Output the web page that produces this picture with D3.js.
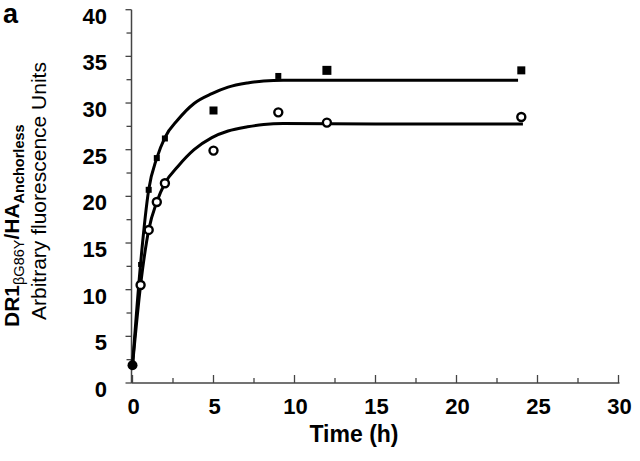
<!DOCTYPE html>
<html>
<head>
<meta charset="utf-8">
<script src="https://cdn.jsdelivr.net/npm/d3@7/dist/d3.min.js"></script>
<style>
  html, body { margin: 0; padding: 0; background: #fff; }
  svg { display: block; }
  text { font-family: "Liberation Sans", Arial, Helvetica, sans-serif; fill: #000; }
</style>
</head>
<body>
<svg id="chart" width="640" height="461"></svg>
<script>
// ---- data ----
const xTicks = [0, 5, 10, 15, 20, 25, 30];
const yTicks = [0, 5, 10, 15, 20, 25, 30, 35, 40];
const startPoint = [0, 1.9];
const squareTimes = [0.5, 1, 1.5, 2, 5, 9, 12, 24];
const squareValues = [12.7, 20.7, 24.1, 26.2, 29.2, 32.9, 33.5, 33.5];
const circleTimes = [0.5, 1, 1.5, 2, 5, 9, 12, 24];
const circleValues = [10.5, 16.4, 19.4, 21.4, 24.9, 29.0, 27.9, 28.5];
const upperCurveTimes = [0, 0.5, 1, 1.5, 2, 2.8, 3.8, 4.9, 5.9, 7.1, 8.1, 9.3, 15, 23.8];
const upperCurveValues = [1.9, 12.8, 20.7, 24.1, 26.3, 28.2, 29.95, 31.0, 31.7, 32.15, 32.37, 32.44, 32.44, 32.44];
const lowerCurveTimes = [0, 0.5, 1, 1.5, 2, 2.8, 3.8, 4.9, 5.9, 7.1, 8.1, 9.3, 15, 24.1];
const lowerCurveValues = [1.9, 10.5, 16.4, 19.4, 21.4, 23.2, 25.0, 26.3, 27.0, 27.45, 27.7, 27.8, 27.75, 27.75];

// ---- style ----
const squareSizes = [5, 6, 6, 6, 8, 6, 9, 8];
const axisColor = "#444";

const svg = d3.select("#chart");
const x = d3.scaleLinear().domain([0, 30]).range([132.5, 618.5]);
const y = d3.scaleLinear().domain([0, 40]).range([383, 9.7]);

// axes lines
svg.append("line").attr("x1", x(0) - 1).attr("x2", x(0) - 1)
  .attr("y1", y(40)).attr("y2", y(0))
  .attr("stroke", axisColor).attr("stroke-width", 1.5);
svg.append("line").attr("x1", x(0) - 1).attr("x2", x(30) + 1)
  .attr("y1", y(0)).attr("y2", y(0))
  .attr("stroke", axisColor).attr("stroke-width", 1.5);

// y ticks (outside, left)
const yMinor = d3.range(2.5, 40, 5);
svg.selectAll(".ytick").data(yTicks).join("line")
  .attr("x1", x(0) - 7).attr("x2", x(0) - 1)
  .attr("y1", d => y(d)).attr("y2", d => y(d))
  .attr("stroke", axisColor).attr("stroke-width", 1.3);
svg.selectAll(".yminor").data(yMinor).join("line")
  .attr("x1", x(0) - 6).attr("x2", x(0) - 1)
  .attr("y1", d => y(d)).attr("y2", d => y(d))
  .attr("stroke", axisColor).attr("stroke-width", 1.3);
svg.selectAll(".ylab").data(yTicks).join("text")
  .attr("x", 107).attr("y", d => y(d) + 14)
  .attr("text-anchor", "end")
  .attr("font-size", 22).attr("font-weight", "bold")
  .text(d => d);

// x ticks (inside, up)
const xMinor = d3.range(2.5, 30, 5);
svg.selectAll(".xtick").data(xTicks).join("line")
  .attr("x1", d => x(d)).attr("x2", d => x(d))
  .attr("y1", y(0) - 8).attr("y2", y(0))
  .attr("stroke", axisColor).attr("stroke-width", 1.3);
svg.selectAll(".xminor").data(xMinor).join("line")
  .attr("x1", d => x(d)).attr("x2", d => x(d))
  .attr("y1", y(0) - 5).attr("y2", y(0))
  .attr("stroke", axisColor).attr("stroke-width", 1.3);
svg.selectAll(".xlab").data(xTicks).join("text")
  .attr("x", d => x(d) + 1).attr("y", 414)
  .attr("text-anchor", "middle")
  .attr("font-size", 22).attr("font-weight", "bold")
  .text(d => d);

// axis titles
svg.append("text").attr("x", 354).attr("y", 442)
  .attr("text-anchor", "middle").attr("font-size", 23).attr("font-weight", "bold")
  .text("Time (h)");

const t1 = svg.append("text").attr("transform", "translate(19,327) rotate(-90)")
  .attr("font-size", 21).attr("font-weight", "bold");
t1.append("tspan").text("DR1");
t1.append("tspan").attr("font-size", 14.5).attr("font-weight", "normal").attr("dy", 5).text("βG86Y");
t1.append("tspan").attr("dy", -5).text("/HA");
t1.append("tspan").attr("font-size", 14.5).attr("dy", 5).text("Anchorless");

svg.append("text").attr("transform", "translate(46,320) rotate(-90)")
  .attr("font-size", 21).text("Arbitrary fluorescence Units");

svg.append("text").attr("x", 3).attr("y", 23)
  .attr("font-size", 27).attr("font-weight", "bold").text("a");

// curves
const line = d3.line().x(d => x(d[0])).y(d => y(d[1])).curve(d3.curveMonotoneX);
const upper = d3.zip(upperCurveTimes, upperCurveValues);
const lower = d3.zip(lowerCurveTimes, lowerCurveValues);
[upper, lower].forEach(c => {
  svg.append("path").attr("d", line(c)).attr("fill", "none")
    .attr("stroke", "#000").attr("stroke-width", 3);
});

// squares
const sq = d3.zip(squareTimes, squareValues);
svg.selectAll(".sq").data(sq).join("rect")
  .attr("x", (d, i) => x(d[0]) - squareSizes[i] / 2)
  .attr("y", (d, i) => y(d[1]) - squareSizes[i] / 2)
  .attr("width", (d, i) => squareSizes[i])
  .attr("height", (d, i) => squareSizes[i])
  .attr("fill", "#000");

// circles
const ci = d3.zip(circleTimes, circleValues);
svg.selectAll(".ci").data(ci).join("circle")
  .attr("cx", d => x(d[0])).attr("cy", d => y(d[1])).attr("r", 4)
  .attr("fill", "#fff").attr("stroke", "#000").attr("stroke-width", 2.4);

// start point
svg.append("circle").attr("cx", x(startPoint[0])).attr("cy", y(startPoint[1]))
  .attr("r", 5).attr("fill", "#000");
</script>
</body>
</html>
